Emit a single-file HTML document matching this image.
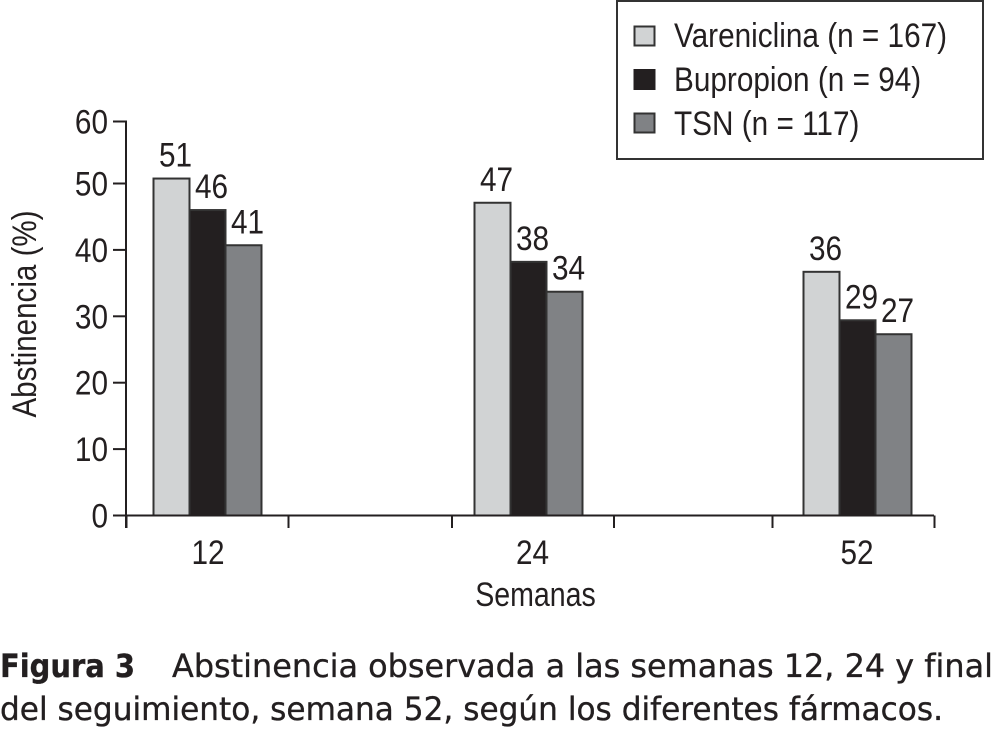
<!DOCTYPE html>
<html lang="es">
<head>
<meta charset="utf-8">
<title>Abstinencia observada</title>
<style>
html,body{margin:0;padding:0;background:#fff;width:993px;height:731px;overflow:hidden}
svg{display:block}
.c{font-family:"Liberation Sans",sans-serif;font-size:34px;fill:#231f20}
.cap{font-family:"DejaVu Sans",sans-serif;font-size:32px;fill:#231f20;stroke:#231f20;stroke-width:.35px}
</style>
</head>
<body>
<svg id="chart" width="993" height="731" viewBox="0 0 993 731" xmlns="http://www.w3.org/2000/svg">
  <g id="plot"></g>
  <g>
    <rect x="617" y="1" width="366" height="158" fill="#fff" stroke="#333" stroke-width="2"/>
    <rect x="634.5" y="26.5" width="20" height="19" fill="#d1d3d4" stroke="#333" stroke-width="2"/>
    <text class="c" transform="translate(674 47) scale(.875 1)">Vareniclina (n = 167)</text>
    <rect x="634.5" y="70" width="20" height="19" fill="#231f20" stroke="#231f20" stroke-width="2"/>
    <text class="c" transform="translate(674 91) scale(.875 1)">Bupropion (n = 94)</text>
    <rect x="634.5" y="113.5" width="20" height="19" fill="#808285" stroke="#333" stroke-width="2"/>
    <text class="c" transform="translate(674 135) scale(.875 1)">TSN (n = 117)</text>
  </g>
  <text class="c" text-anchor="middle" transform="translate(36 314) rotate(-90) scale(.87 1)">Abstinencia (%)</text>
  <text class="c" text-anchor="middle" transform="translate(535.5 606) scale(.84 1)">Semanas</text>
  <g>
    <text class="cap" x="0" y="677" font-weight="bold" textLength="135" lengthAdjust="spacingAndGlyphs">Figura 3</text>
    <text class="cap" x="172" y="677" textLength="821" lengthAdjust="spacingAndGlyphs">Abstinencia observada a las semanas 12, 24 y final</text>
    <text class="cap" x="0" y="720" textLength="943" lengthAdjust="spacingAndGlyphs">del seguimiento, semana 52, según los diferentes fármacos.</text>
  </g>
</svg>
<script>
const categories = ['12', '24', '52'];
const yTicks = [0, 10, 20, 30, 40, 50, 60];
const vareniclina = [50.8, 47.1, 36.7];
const bupropion = [46.0, 38.2, 29.4];
const tsn = [40.7, 33.7, 27.3];
const vareniclinaLabels = ['51', '47', '36'];
const bupropionLabels = ['46', '38', '29'];
const tsnLabels = ['41', '34', '27'];
const seriesNames = ['vareniclina', 'bupropion', 'tsn'];

const NS = 'http://www.w3.org/2000/svg';
const plot = document.getElementById('plot');
const INK = '#231f20';
const y = v => v <= 50 ? 515.5 - 6.64 * v : 183.5 - 6.2 * (v - 50);
const groupCenter = i => 207.5 + 325 * i - (i === 1 ? 4 : 0);
const tickCenter = i => 207.5 + 323 * i + (i === 1 ? 2.5 : 0);
const BAR_W = 36;
const TICK_HALF = 81;
const series = [vareniclina, bupropion, tsn];
const seriesLabels = [vareniclinaLabels, bupropionLabels, tsnLabels];
const seriesFill = ['#d1d3d4', '#231f20', '#808285'];

function make(tag, attrs, parent) {
  const el = document.createElementNS(NS, tag);
  for (const k in attrs) el.setAttribute(k, attrs[k]);
  (parent || plot).appendChild(el);
  return el;
}

series.forEach((vals, s) => {
  vals.forEach((v, i) => {
    const left = groupCenter(i) + (s - 1.5) * BAR_W;
    const bar = make('rect', {x: left, y: y(v), width: BAR_W, height: y(0) - y(v), fill: seriesFill[s], stroke: '#333', 'stroke-width': 2});
    
    
    const label = make('text', {class: 'c', 'text-anchor': 'middle', transform: 'translate(' + (left + BAR_W / 2 + 4) + ' ' + (y(v) - 12) + ') scale(.875 1)'});
    label.textContent = seriesLabels[s][i];
    
    
  });
});

const yAxis = make('line', {x1: 126, x2: 126, y1: y(60) - 1, y2: 528, stroke: INK, 'stroke-width': 2});


const xAxis = make('line', {x1: 113, x2: 934, y1: y(0), y2: y(0), stroke: INK, 'stroke-width': 2});



yTicks.forEach(t => {
  const tick = make('line', {x1: 113, x2: 126, y1: y(t), y2: y(t), stroke: INK, 'stroke-width': 2});
  
  
  const lab = make('text', {class: 'c', 'text-anchor': 'end', transform: 'translate(108 ' + (y(t) + 12) + ') scale(.875 1)'});
  lab.textContent = t;
  
  
});

categories.forEach((c, i) => {
  const lab = make('text', {class: 'c', 'text-anchor': 'middle', transform: 'translate(' + (208 + 324.5 * i) + ' 564) scale(.875 1)'});
  lab.textContent = c;
  
  
  [-TICK_HALF, TICK_HALF].forEach((d, k) => {
    const tick = make('line', {x1: tickCenter(i) + d, x2: tickCenter(i) + d, y1: y(0), y2: 528, stroke: INK, 'stroke-width': 2});
    
    
  });
});
</script>
</body>
</html>
